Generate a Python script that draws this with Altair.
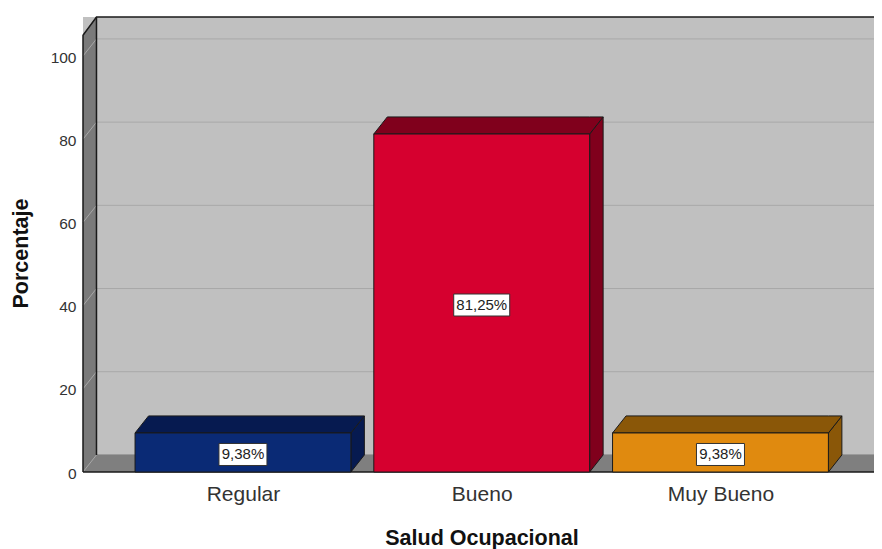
import altair as alt
import pandas as pd

categories = ["Regular", "Bueno", "Muy Bueno"]
values = [9.38, 81.25, 9.38]
labels = ["9,38%", "81,25%", "9,38%"]
front_colors = ["#0a2a75", "#d6002f", "#e08a0f"]
side_colors = ["#061a50", "#80001c", "#8a5708"]
y_ticks = [0, 20, 40, 60, 80, 100]

FONT = "Liberation Sans"
X_MIN, X_MAX = -0.670, 2.643
Y_MAX = 109.375
WALL_TOP = 105.0
DX, DY = 0.0565, 4.1
HALF = 0.452
EDGE = "#1a1a1a"
X = alt.Scale(domain=[X_MIN, X_MAX], nice=False, zero=False)
Y = alt.Scale(domain=[0, Y_MAX], nice=False, zero=False)


def xq(field="x", **kw):
    return alt.X(field, type="quantitative", scale=X, **kw)


def yq(field="y", **kw):
    return alt.Y(field, type="quantitative", scale=Y, **kw)


def area(points, fill, stroke=EDGE, width=1):
    d = pd.DataFrame(points, columns=["x", "y", "y2"])
    return alt.Chart(d).mark_area(
        fill=fill, stroke=stroke, strokeWidth=width, clip=True, opacity=1
    ).encode(
        x=xq(),
        y=yq(stack=None),
        y2=alt.Y2("y2"),
    )


label_expr = "{0:'Regular',1:'Bueno',2:'Muy Bueno'}[datum.value]"
base = alt.Chart(pd.DataFrame({"x": [X_MIN], "x2": [X_MAX], "y": [0.0], "y2": [Y_MAX]})).mark_rect(
    fill="#c0c0c0", stroke=None
).encode(
    x=xq(axis=alt.Axis(
        values=[0, 1, 2], labelExpr=label_expr, title="Salud Ocupacional", grid=False,
        domain=False, ticks=False, labelFontSize=21, labelFont=FONT, labelColor="#333333",
        labelPadding=11, titleFont=FONT, titleFontSize=21.5, titleFontWeight="bold",
        titleColor="#111111", titleX=398.5, titleY=66, titleBaseline="middle",
        titleAlign="center", titleAnchor="start", labelFlush=False, labelOverlap=False,
    )),
    x2=alt.X2("x2"),
    y=yq(axis=alt.Axis(
        values=y_ticks, title="Porcentaje", grid=False, domain=False, ticks=False,
        labelFontSize=15.5, labelFont=FONT, labelColor="#333333", labelPadding=7,
        labelOffset=1, titleFont=FONT, titleFontSize=21.5, titleFontWeight="bold",
        titleColor="#111111", titleX=-62, titleY=236, titleBaseline="middle",
        titleAlign="center", titleAnchor="start", titleAngle=270,
    )),
    y2=alt.Y2("y2"),
)

layers = [base]

# back-wall gridlines
grid = pd.DataFrame({"x": [X_MIN + DX] * 6, "x2": [X_MAX] * 6, "y": [t + DY for t in y_ticks]})
layers.append(alt.Chart(grid[grid.y > DY]).mark_rule(color="#a8a8a8", strokeWidth=1).encode(
    x=xq(), x2=alt.X2("x2"), y=yq()))

# left wall and floor
layers.append(area([(X_MIN, 0, WALL_TOP), (X_MIN + DX, DY, Y_MAX)], "#7a7a7a", stroke="#7a7a7a"))
layers.append(area([(X_MIN, 0, 0), (X_MIN + DX, 0, DY), (X_MAX, 0, DY)], "#7f7f7f", stroke="#7f7f7f"))

# diagonal gridlines on the left wall
diag = pd.DataFrame(
    [{"t": t, "x": X_MIN + k * DX, "y": t + k * DY} for t in y_ticks for k in (0, 1)]
)
layers.append(alt.Chart(diag).mark_line(color="#a8a8a8", strokeWidth=1).encode(
    x=xq(), y=yq(), detail="t:N"))

# wall edges
edges = pd.DataFrame([
    {"e": "a", "o": 0, "x": X_MIN, "y": 0},
    {"e": "a", "o": 1, "x": X_MIN, "y": WALL_TOP},
    {"e": "a", "o": 2, "x": X_MIN + DX, "y": Y_MAX},
    {"e": "a", "o": 3, "x": X_MAX, "y": Y_MAX},
    {"e": "b", "o": 0, "x": X_MIN + DX, "y": Y_MAX},
    {"e": "b", "o": 1, "x": X_MIN + DX, "y": DY},
    {"e": "c", "o": 0, "x": X_MIN, "y": 0},
    {"e": "c", "o": 1, "x": X_MAX, "y": 0},
])
layers.append(alt.Chart(edges).mark_line(color=EDGE, strokeWidth=1.5).encode(
    x=xq(), y=yq(), detail="e:N", order=alt.Order("o:Q")))

# bars
for i, (v, fc, sc) in enumerate(zip(values, front_colors, side_colors)):
    L, R = i - HALF, i + HALF
    layers.append(area([(R, 0, v), (R + DX, DY, v + DY)], sc))
    layers.append(area([(L, v, v), (L + DX, v, v + DY), (R, v, v + DY), (R + DX, v + DY, v + DY)], sc))
    front = pd.DataFrame({"x": [L], "x2": [R], "y": [0.0], "y2": [v]})
    layers.append(alt.Chart(front).mark_rect(fill=fc, stroke=EDGE, strokeWidth=1).encode(
        x=xq(), x2=alt.X2("x2"), y=yq(), y2=alt.Y2("y2")))

# value labels
lab = pd.DataFrame({
    "x": list(range(3)),
    "y": [v / 2 for v in values],
    "label": labels,
    "w": [48, 56, 48],
})
for w, sub in lab.groupby("w"):
    layers.append(alt.Chart(sub).mark_rect(
        width=int(w), height=22, fill="white", stroke="#333333", strokeWidth=1, yOffset=2
    ).encode(x=xq(), y=yq()))
layers.append(alt.Chart(lab).mark_text(font=FONT, fontSize=15, color="#222222", dy=2).encode(
    x=xq(), y=yq(), text="label:N"))

chart = alt.layer(*layers).properties(
    width=791, height=455,
    autosize=alt.AutoSizeParams(type="none"),
    padding={"left": 75, "top": 9, "right": 0, "bottom": 77},
).configure_view(stroke=None)

chart.save("out.html", embed_options={"renderer": "svg", "actions": False})
